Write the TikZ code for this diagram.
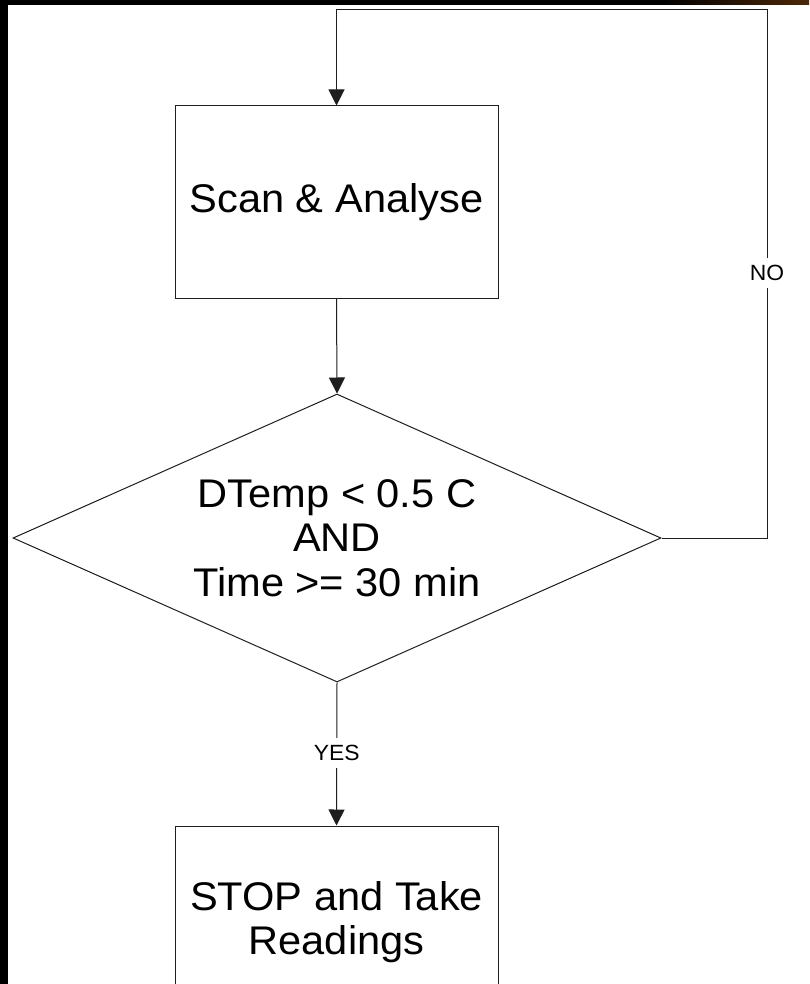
\documentclass[tikz,border=0pt]{standalone}
\usepackage{fontspec}
\setmainfont{Liberation Sans}[FakeStretch=1.04]
\usetikzlibrary{arrows.meta,shapes.geometric}
\definecolor{edgebrown}{RGB}{78,40,8}
\definecolor{linegray}{RGB}{30,30,30}
\begin{document}
\begin{tikzpicture}[x=1pt,y=-1pt,
  line width=1pt,
  boxnode/.style={draw=linegray, rectangle, minimum width=323pt, minimum height=192pt,
    inner sep=0pt, align=center, font=\fontsize{40}{44.5}\selectfont},
  decnode/.style={draw=linegray, diamond, aspect=2.25, minimum width=648pt,
    minimum height=288pt, inner sep=0pt, align=center, font=\fontsize{40}{44.5}\selectfont},
  lbl/.style={fill=white, inner xsep=2pt, inner ysep=0pt, minimum height=30pt,
    font=\fontsize{22}{24}\selectfont},
  flow/.style={draw=linegray, -{Triangle[length=16pt,width=16pt]}}]

% canvas
\useasboundingbox (0,0) rectangle (809,984);
\clip (0,0) rectangle (809,984);
\fill[white] (0,0) rectangle (809,984);

% dark frame edges
\fill[black] (0,0) rectangle (660,5);
\shade[left color=black, right color=edgebrown] (660,0) rectangle (809,5);
\fill[black] (0,0) rectangle (8,984);

% flowchart nodes
\node[boxnode] (scan) at (336.5,202) {Scan \& Analyse};
\node[decnode] (dec) at (337,538) {DTemp < 0.5 C\\AND\\Time >= 30 min};
\node[boxnode] (stop) at (336.5,922) {STOP and Take\\Readings};

% loop-back corner
\coordinate (loop) at (767,10);

% connectors
\draw[flow] (scan.south) -- (dec.north);
\draw[flow] (dec.east) -| (loop) -| (scan.north);
\draw[flow] (dec.south) -- node[lbl, pos=0.49] (yes) {YES} (stop.north);
\node[lbl] (no) at (767,273) {NO};
\end{tikzpicture}
\end{document}
